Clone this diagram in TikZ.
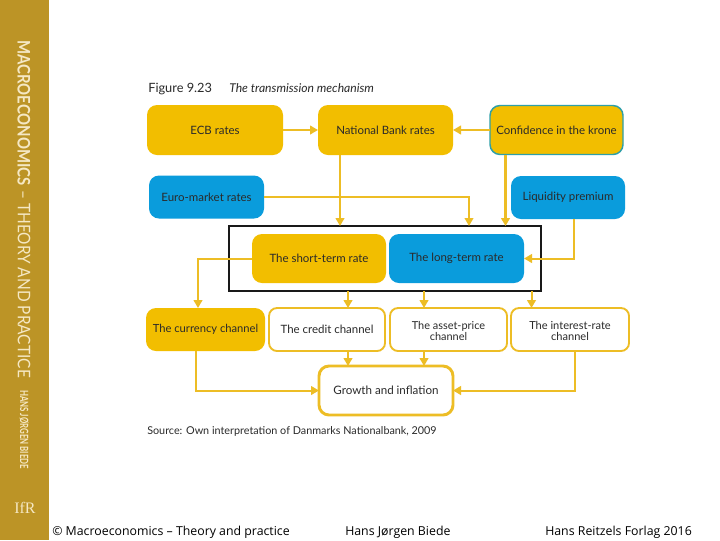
\documentclass[tikz,border=0pt]{standalone}
\usepackage{fontspec}
\usepackage{graphicx}
\setmainfont{Lato}
\newfontfamily\footfont{Open Sans}
\newfontfamily\logofont{Liberation Serif}
\usetikzlibrary{arrows.meta}
\definecolor{spine}{HTML}{BC9426}
\definecolor{cream}{HTML}{F5E8C4}
\definecolor{gold}{HTML}{F2BE00}
\definecolor{sky}{HTML}{0A9CDC}
\definecolor{link}{HTML}{EDBD25}
\definecolor{teal2}{HTML}{2E9FA8}
\definecolor{ink}{HTML}{2A2A2A}
\tikzset{
  box/.style={rounded corners=7.5pt, outer sep=0pt, inner sep=0pt, align=center, text=ink,
    font=\fontsize{8.6}{8.6}\selectfont},
  goldbox/.style={box, fill=gold},
  bluebox/.style={box, fill=sky},
  whitebox/.style={box, fill=white, draw=link, line width=1.4pt, rounded corners=6pt},
  conn/.style={draw=link, line width=1.5pt, -{Triangle[length=6pt,width=6.5pt]}},
  connthin/.style={draw=link, line width=1.3pt, -{Triangle[length=6pt,width=6.5pt]}},
  connfat/.style={draw=link, line width=2.2pt, -{Triangle[length=6pt,width=6.5pt]}},
  foot/.style={anchor=base west, inner sep=0pt, font=\footfont\fontsize{9.25}{11}\selectfont, text=black},
  spinetext/.style={rotate=-90, inner sep=0pt, text=cream},
}
\begin{document}
\begin{tikzpicture}[x=0.75pt,y=-0.75pt]
\useasboundingbox (0,0) rectangle (720,540);
\fill[white] (0,0) rectangle (720,540);
\fill[spine] (0,0) rectangle (49,540);
% spine
\node[spinetext, anchor=west] (spA) at (24,40) {\scalebox{0.86}[1]{\fontsize{13}{13}\selectfont\bfseries MACROECONOMICS}};
\node[spinetext, anchor=west] (spB) at (24,190) {\scalebox{0.89}[1]{\fontsize{13}{13}\selectfont – THEORY AND PRACTICE}};
\node[spinetext, anchor=west] (spC) at (24,390) {\scalebox{0.69}[1]{\fontsize{8.5}{8.5}\selectfont\bfseries HANS JØRGEN BIEDE}};
\node[inner sep=0pt, text=cream, font=\logofont\fontsize{12}{12}\selectfont] (logo) at (25,508) {IfR};
% title and source
\node[anchor=base west, inner sep=0pt, text=ink, font=\fontsize{9.6}{10}\selectfont] (title) at (148,92) {Figure 9.23};
\node[anchor=base west, inner sep=0pt, text=ink, font=\itshape\fontsize{9.1}{10}\selectfont] (titleb) at (229,92) {The transmission mechanism};
\node[anchor=base west, inner sep=0pt, text=ink, font=\fontsize{8.1}{10}\selectfont] (src) at (147,434) {Source: Own interpretation of Danmarks Nationalbank, 2009};
% frame
\node[draw=black!90, line width=2pt, fill=white, minimum width=312*0.75pt, minimum height=65*0.75pt, outer sep=0pt, inner sep=0pt] (frame) at (385,258.5) {};
% connector x positions
\coordinate (xA) at (340,0);
\coordinate (xB) at (469,0);
\coordinate (xC) at (505.5,0);
\coordinate (xD) at (574,0);
\coordinate (xE) at (198,0);
\coordinate (xF) at (348,0);
\coordinate (xG) at (424,0);
\coordinate (xH) at (531.5,0);
\coordinate (xI) at (196,0);
\coordinate (xJ) at (575,0);
\node[goldbox, minimum width=134*0.75pt, minimum height=49*0.75pt] (short) at (319,258.5) {The short-term rate};
\node[bluebox, minimum width=135*0.75pt, minimum height=49*0.75pt] (long) at (456.5,258.5) {The long-term rate};
\node[goldbox, minimum width=136*0.75pt, minimum height=50*0.75pt] (ecb) at (215,130) {ECB rates};
\node[goldbox, minimum width=135*0.75pt, minimum height=50*0.75pt] (nat) at (385.5,130) {National Bank rates};
\node[goldbox, draw=teal2, line width=1.1pt, minimum width=133*0.75pt, minimum height=49*0.75pt] (conf) at (556.5,130) {Confidence in the krone};
\node[bluebox, font=\fontsize{8.6}{8.6}\selectfont, minimum width=115*0.75pt, minimum height=43*0.75pt] (euro) at (206.5,197) {Euro-market rates};
\node[bluebox, minimum width=114*0.75pt, minimum height=43*0.75pt] (liq) at (568,197.5) {Liquidity premium};
\node[goldbox, font=\fontsize{8.4}{8.4}\selectfont, minimum width=119*0.75pt, minimum height=43*0.75pt] (curr) at (205.5,329.5) {The currency channel};
\node[whitebox, minimum width=116*0.75pt, minimum height=43*0.75pt] (cred) at (327,329.5) {The credit channel};
\node[whitebox, font=\fontsize{8.2}{8.6}\selectfont, minimum width=117*0.75pt, minimum height=43*0.75pt] (asset) at (448.5,329.5) {\rule{0pt}{8.5pt}The asset-price\\channel};
\node[whitebox, font=\fontsize{8.3}{8.6}\selectfont, minimum width=118*0.75pt, minimum height=43*0.75pt] (inter) at (570,329.5) {\rule{0pt}{8.5pt}The interest-rate\\channel};
\node[whitebox, line width=2.2pt, rounded corners=7.5pt, font=\fontsize{8.7}{8.7}\selectfont, minimum width=134*0.75pt, minimum height=49*0.75pt] (grow) at (386,390.5) {Growth and inflation};
% connectors
\draw[connfat] (ecb) -- (nat);
\draw[conn] (conf) -- (nat);
\draw[conn] (xA |- nat.south) -- (xA |- frame.north);
\draw[connthin] (euro.east) -| (xB |- frame.north);
\draw[connfat] (xC |- conf.south) -- (xC |- frame.north);
\draw[conn] (xD |- liq.south) |- (long.east);
\draw[conn] (short.west) -| (xE |- curr.north);
\draw[conn] (xF |- frame.south) -- (xF |- cred.north);
\draw[conn] (xG |- frame.south) -- (xG |- asset.north);
\draw[conn] (xH |- frame.south) -- (xH |- inter.north);
\draw[connfat] (xF |- cred.south) -- (xF |- grow.north);
\draw[connfat] (xG |- asset.south) -- (xG |- grow.north);
\draw[conn] (xI |- curr.south) |- (grow.west);
\draw[conn] (xJ |- inter.south) |- (grow.east);
% footer
\node[foot] (fa) at (52,535) {© Macroeconomics – Theory and practice};
\node[foot] (fb) at (345,535) {Hans Jørgen Biede};
\node[foot] (fc) at (545,535) {Hans Reitzels Forlag 2016};
\end{tikzpicture}
\end{document}
